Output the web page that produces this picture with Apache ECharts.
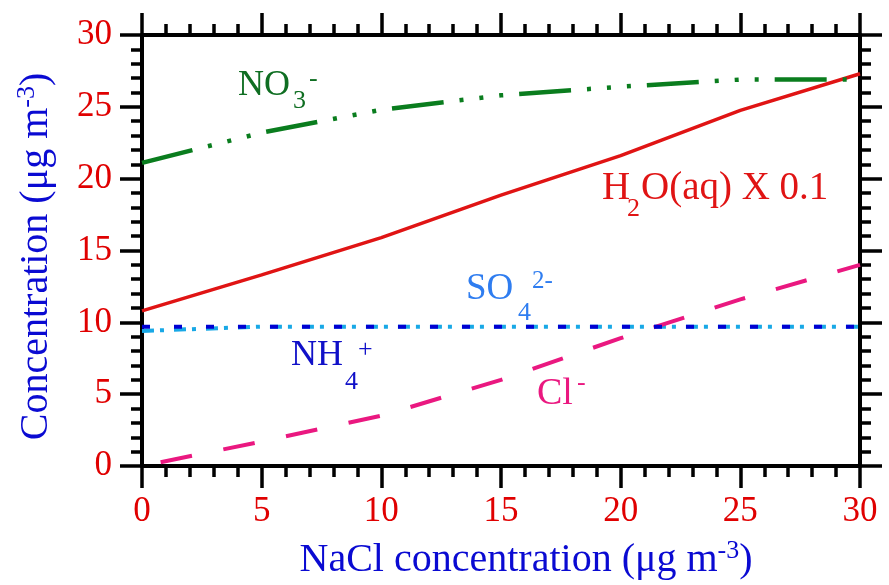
<!DOCTYPE html>
<html>
<head>
<meta charset="utf-8">
<script src="https://cdn.jsdelivr.net/npm/echarts@6/dist/echarts.min.js"></script>
<style>
html,body{margin:0;padding:0;background:#fff;}
#chart{width:889px;height:585px;}
</style>
</head>
<body>
<div id="chart"></div>
<script>
// NaCl concentration (x)
const nacl = [0, 5, 10, 15, 20, 25, 30];
// Series values (µg m-3)
const no3 = [21.1, 23.2, 24.8, 25.8, 26.4, 26.9, 26.9];
const h2o = [10.8, 13.3, 15.9, 18.85, 21.6, 24.75, 27.3];   // H2O(aq) x 0.1
const so4 = [9.4, 9.7, 9.7, 9.7, 9.7, 9.7, 9.7];
const nh4 = [9.7, 9.7, 9.7, 9.7, 9.7, 9.7, 9.7];
const cl  = [0, 1.7, 3.5, 6.0, 8.9, 11.6, 14.0];
// Axis ticks
const axisMin = 0, axisMax = 30, axisStep = 5;

const FONT = 'Liberation Serif';
const pair = arr => nacl.map((x, i) => [x, arr[i]]);

const chart = echarts.init(document.getElementById('chart'), null, {renderer: 'canvas'});

const tickStyle = {color: '#000', width: 3.5};
function axisBase(pos, showLabel) {
  return {
    type: 'value', position: pos, min: axisMin, max: axisMax, interval: axisStep,
    axisLine: {show: true, onZero: false, lineStyle: {color: '#000', width: 4}},
    axisTick: {show: true, inside: false, length: 22, lineStyle: tickStyle},
    minorTick: {show: true, splitNumber: 5, length: 11, lineStyle: tickStyle},
    splitLine: {show: false},
    minorSplitLine: {show: false},
    axisLabel: {show: showLabel, color: '#e00000', fontSize: 35, fontFamily: FONT, margin: 28}
  };
}

const nameRich = {
  a: {fontSize: 40, fontFamily: FONT, color: '#0a0ad2', lineHeight: 44},
  s: {fontSize: 26, fontFamily: FONT, color: '#0a0ad2', verticalAlign: 'top', lineHeight: 44, padding: [0, 0, 14, 0]}
};

const xBottom = Object.assign(axisBase('bottom', true), {
  name: '{a|NaCl concentration (μg m}{s|-3}{a|)}',
  nameLocation: 'middle', nameGap: 72,
  nameTextStyle: {rich: nameRich, padding: [0, 0, 0, 50]}
});
const xTop = axisBase('top', false);
const yLeft = Object.assign(axisBase('left', true), {
  name: '{a|Concentration (μg m}{s|-3}{a|)}',
  nameLocation: 'middle', nameGap: 84,
  nameTextStyle: {rich: nameRich, padding: [0, 12, 0, 0]}
});
yLeft.axisLabel.margin = 30;
const yRight = axisBase('right', false);

function lbl(text, left, cy, size, color) {
  return {type: 'text', left: left, top: cy - size / 2, z: 100,
    style: {text: text, font: size + 'px "' + FONT + '"', fill: color}};
}

const green = '#0f6e22', greenLine = '#0a7d1e';
const red = '#e01414';
const lblue = '#2f7df0', lblueLine = '#18a8e6';
const dblue = '#1010c8', dblueLine = '#0000d2';
const pink = '#ea1880';

chart.setOption({
  animation: false,
  backgroundColor: '#fff',
  grid: {left: 142, right: 29, top: 35, bottom: 118, containLabel: false},
  xAxis: [xBottom, xTop],
  yAxis: [yLeft, yRight],
  series: [
    {name: 'SO4', type: 'line', data: pair(so4), symbol: 'none', z: 3,
     lineStyle: {color: lblueLine, width: 4, type: [12, 6, 4, 10]}},
    {name: 'NH4', type: 'line', data: pair(nh4), symbol: 'none', z: 4,
     lineStyle: {color: dblueLine, width: 4, type: [8, 24]}},
    {name: 'Cl', type: 'line', data: pair(cl), symbol: 'none', z: 3,
     lineStyle: {color: pink, width: 4, type: [32, 32], dashOffset: 45}},
    {name: 'H2O', type: 'line', data: pair(h2o), symbol: 'none', z: 3,
     lineStyle: {color: red, width: 3.5, type: 'solid'}},
    {name: 'NO3', type: 'line', data: pair(no3), symbol: 'none', z: 3,
     lineStyle: {color: greenLine, width: 4.5, type: [52, 16, 4, 16, 4, 16, 4, 16]}}
  ],
  graphic: [
    lbl('NO', 238, 86, 36, green),
    lbl('3', 293, 101, 26, green),
    lbl('-', 309, 79, 26, green),
    lbl('H', 602, 189, 39, red),
    lbl('2', 627, 209, 26, red),
    lbl('O(aq) X 0.1', 641, 189, 39, red),
    lbl('SO', 466, 289, 37, lblue),
    lbl('4', 518, 313, 26, lblue),
    lbl('2-', 532, 281, 25, lblue),
    lbl('NH', 291, 356, 36, dblue),
    lbl('4', 345, 382, 26, dblue),
    lbl('+', 358, 350, 26, dblue),
    lbl('Cl', 537, 394, 38, pink),
    lbl('-', 577, 383, 26, pink)
  ]
});
</script>
</body>
</html>
